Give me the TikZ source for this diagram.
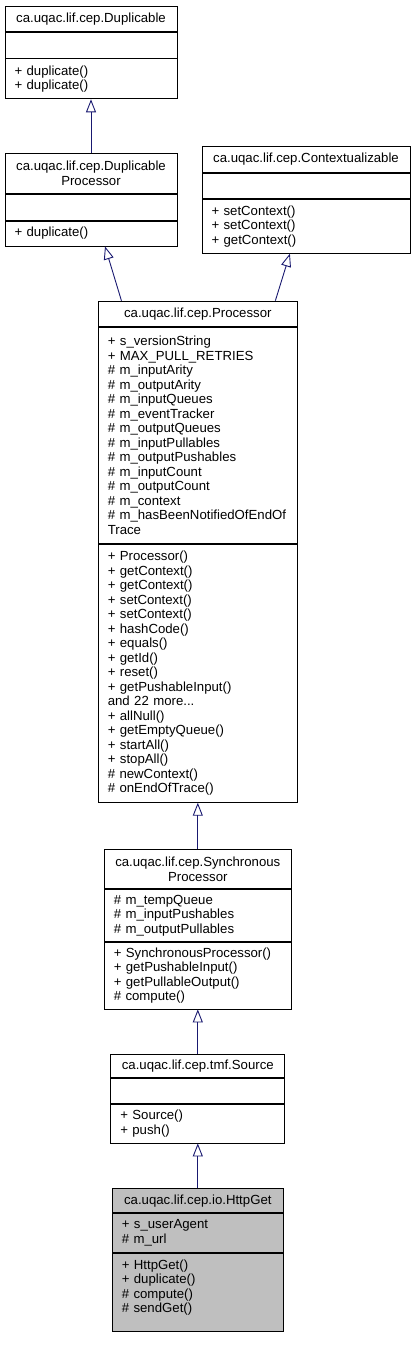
\documentclass[tikz,border=0pt]{standalone}
\usepackage{fontspec}
\setmainfont{Liberation Sans}
\usepackage{tikz}
\usetikzlibrary{arrows.meta,positioning,calc}
\definecolor{edgeblue}{HTML}{191970}
\definecolor{classgray}{HTML}{BFBFBF}

\begin{document}
\begin{tikzpicture}[
  x=1pt, y=-1pt,
  every node/.style={font=\fontsize{13.2}{14.5}\selectfont, inner ysep=1pt},
  title/.style={draw, line width=0.9pt, text width=#1, align=center,
                inner xsep=9.5pt, anchor=north},
  part/.style={draw, line width=0.9pt, text width=#1, align=left,
               inner xsep=9.5pt},
  arrow/.style={-{Triangle[open, length=13pt, width=10pt]},
                draw=edgeblue, line width=0.9pt}
]
\useasboundingbox (0,0) rectangle (415,1345);

\node[title=153pt, minimum height=25.6pt] (dup) at (91,5.7) {ca.uqac.lif.cep.Duplicable};
\node[part=153pt, minimum height=25.3pt, below=0pt of dup] (dupattr) {};
\node[part=153pt, minimum height=40pt, below=0pt of dupattr] (dupops) {+ duplicate()\\+ duplicate()};

\node[title=153pt, minimum height=39.4pt] (dupproc) at (91,153.3) {ca.uqac.lif.cep.Duplicable\\Processor};
\node[part=153pt, minimum height=26pt, below=0pt of dupproc] (dupprocattr) {};
\node[part=153pt, minimum height=25pt, below=0pt of dupprocattr] (dupprocops) {+ duplicate()};

\node[title=189pt, minimum height=25.7pt] (ctx) at (306,146) {ca.uqac.lif.cep.Contextualizable};
\node[part=189pt, minimum height=25pt, below=0pt of ctx] (ctxattr) {};
\node[part=189pt, minimum height=54.3pt, below=0pt of ctxattr] (ctxops) {+ setContext()\\+ setContext()\\+ getContext()};

\node[title=180pt, minimum height=25pt] (proc) at (197.8,300.7) {ca.uqac.lif.cep.Processor};
\node[part=180pt, minimum height=216pt, below=0pt of proc] (procattr) {+ s\_versionString\\+ MAX\_PULL\_RETRIES\\\# m\_inputArity\\\# m\_outputArity\\\# m\_inputQueues\\\# m\_eventTracker\\\# m\_outputQueues\\\# m\_inputPullables\\\# m\_outputPushables\\\# m\_inputCount\\\# m\_outputCount\\\# m\_context\\\# m\_hasBeenNotifiedOfEndOf\\Trace};
\node[part=180pt, minimum height=258.3pt, below=0pt of procattr] (procops) {+ Processor()\\+ getContext()\\+ getContext()\\+ setContext()\\+ setContext()\\+ hashCode()\\+ equals()\\+ getId()\\+ reset()\\+ getPushableInput()\\and 22 more...\\+ allNull()\\+ getEmptyQueue()\\+ startAll()\\+ stopAll()\\\# newContext()\\\# onEndOfTrace()};

\node[title=168pt, minimum height=39pt] (sync) at (197.8,849.3) {ca.uqac.lif.cep.Synchronous\\Processor};
\node[part=168pt, minimum height=51.7pt, below=0pt of sync] (syncattr) {\# m\_tempQueue\\\# m\_inputPushables\\\# m\_outputPullables};
\node[part=168pt, minimum height=66.7pt, below=0pt of syncattr] (syncops) {+ SynchronousProcessor()\\+ getPushableInput()\\+ getPullableOutput()\\\# compute()};

\node[title=155pt, minimum height=22.7pt] (source) at (197.8,1054) {ca.uqac.lif.cep.tmf.Source};
\node[part=155pt, minimum height=25.6pt, below=0pt of source] (sourceattr) {};
\node[part=155pt, minimum height=38.4pt, below=0pt of sourceattr] (sourceops) {+ Source()\\+ push()};

\node[title=152pt, fill=classgray, minimum height=24pt] (httpget) at (197.8,1188.3) {ca.uqac.lif.cep.io.HttpGet};
\node[part=152pt, fill=classgray, minimum height=38.7pt, below=0pt of httpget] (httpgetattr) {+ s\_userAgent\\\# m\_url};
\node[part=152pt, fill=classgray, minimum height=78.3pt, below=0pt of httpgetattr] (httpgetops) {+ HttpGet()\\+ duplicate()\\\# compute()\\\# sendGet()\\[-2.5pt]\mbox{}};

\draw[arrow] (dupproc.north) -- (dupops.south);
\draw[arrow] ($(proc.north west)!0.118!(proc.north east)$) -- ($(dupprocops.south west)!0.581!(dupprocops.south east)$);
\draw[arrow] ($(proc.north west)!0.888!(proc.north east)$) -- ($(ctxops.south west)!0.423!(ctxops.south east)$);
\draw[arrow] (sync.north) -- (procops.south);
\draw[arrow] (source.north) -- (syncops.south);
\draw[arrow] (httpget.north) -- (sourceops.south);
\end{tikzpicture}
\end{document}
